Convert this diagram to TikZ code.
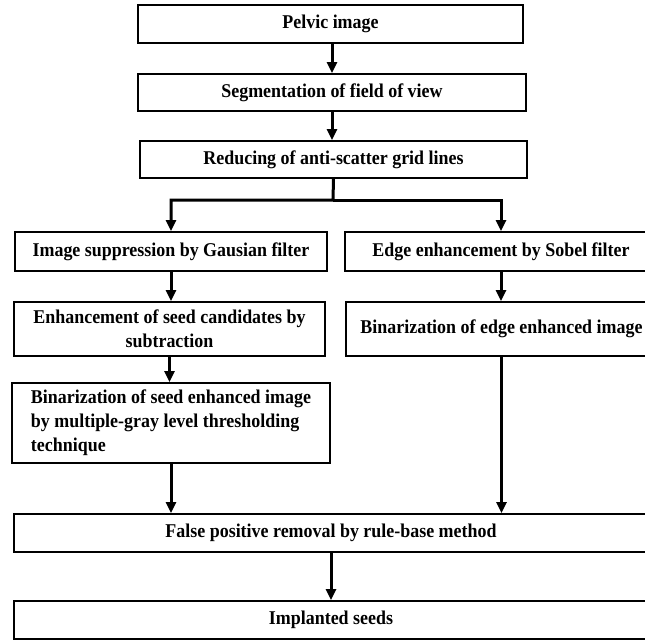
\documentclass[tikz,border=0pt]{standalone}
\usepackage{fontspec}
\setmainfont[FakeStretch=0.92]{Liberation Serif}
\usetikzlibrary{arrows.meta}

\begin{document}
\begin{tikzpicture}[x=1pt,y=-1pt]
\tikzstyle{every node}+=[inner sep=0pt]
\tikzstyle{box}=[draw, line width=1.8pt, font=\fontsize{19.5}{24}\selectfont\bfseries, align=center]
\tikzstyle{arr}=[line width=3pt, -{Triangle[width=10pt,length=11pt]}]
\useasboundingbox (0,0) rectangle (645,640);
% top column
\node [box, minimum width=385, minimum height=38] (pelvic) at (330.5,24) {Pelvic image};
\node [box, minimum width=388, minimum height=37] (seg) at (332,92.5) {Segmentation of field of view};
\node [box, minimum width=387, minimum height=37] (reduce) at (333.5,159.5) {Reducing of anti-scatter grid lines};
% left branch
\node [box, minimum width=312, minimum height=39] (gauss) at (171,251.5) {Image suppression by Gausian filter};
\node [box, minimum width=311, minimum height=54] (enhance) at (169.5,329) {Enhancement of seed candidates by\\subtraction};
\node [box, align=left, minimum width=318, minimum height=80] (binseed) at (171,423) {Binarization of seed enhanced image\\by multiple-gray level thresholding\\technique};
% right branch
\node [box, minimum width=312, minimum height=39] (sobel) at (501,251.5) {Edge enhancement by Sobel filter};
\node [box, minimum width=311, minimum height=54] (binedge) at (501.5,329) {Binarization of edge enhanced image};
% bottom
\node [box, minimum width=634, minimum height=38] (falsepos) at (331,533) {False positive removal by rule-base method};
\node [box, minimum width=634, minimum height=38] (implanted) at (331,620) {Implanted seeds};
\coordinate (split) at (333,200);

\draw [arr] (seg.north |- pelvic.south) -- (seg.north);
\draw [arr] (seg.south) -- (seg.south |- reduce.north);
\draw [arr] (reduce.south) -- (split) -| (gauss.north);
\draw [arr] (split) -| (sobel.north);
\draw [arr] (gauss.south) -- (gauss.south |- enhance.north);
\draw [arr] (sobel.south) -- (sobel.south |- binedge.north);
\draw [arr] (enhance.south) -- (enhance.south |- binseed.north);
\draw [arr] (binseed.south) -- (binseed.south |- falsepos.north);
\draw [arr] (binedge.south) -- (binedge.south |- falsepos.north);
\draw [arr] (falsepos.south) -- (falsepos.south |- implanted.north);
\end{tikzpicture}
\end{document}
